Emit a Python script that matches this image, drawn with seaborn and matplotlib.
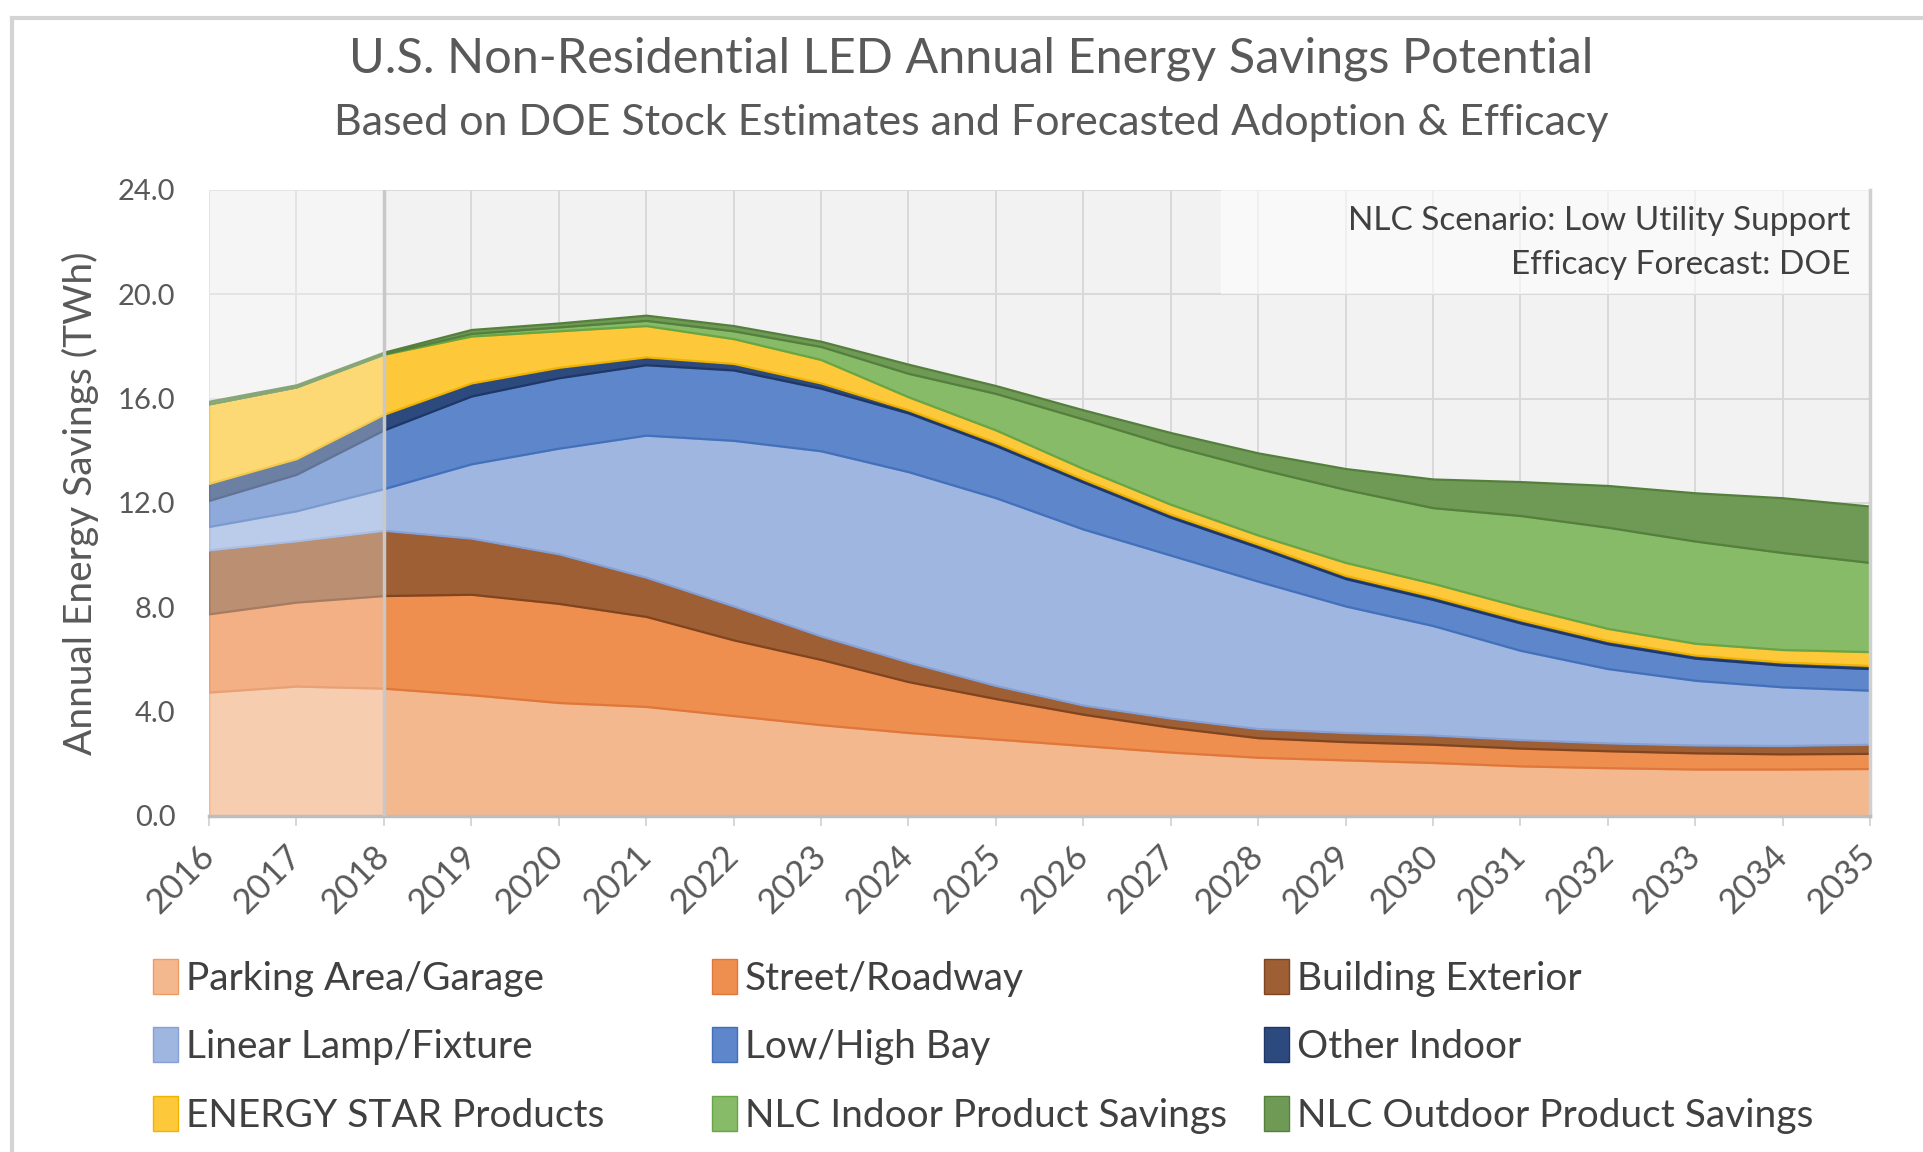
import matplotlib
matplotlib.use("Agg")
import matplotlib.pyplot as plt
import matplotlib.patches as mpatches
import seaborn as sns

# Data (TWh per category, stacked)
years = list(range(2016, 2036))

parking = [4.75, 4.98, 4.90, 4.65, 4.35, 4.20, 3.85, 3.50, 3.20, 2.95,
           2.70, 2.45, 2.25, 2.15, 2.05, 1.92, 1.85, 1.80, 1.80, 1.82]
street = [3.00, 3.22, 3.55, 3.85, 3.80, 3.45, 2.90, 2.50, 1.95, 1.55,
          1.20, 0.95, 0.75, 0.70, 0.70, 0.68, 0.65, 0.62, 0.58, 0.58]
building_ext = [2.45, 2.35, 2.50, 2.15, 1.90, 1.50, 1.30, 0.90, 0.75, 0.50,
                0.35, 0.35, 0.35, 0.35, 0.35, 0.33, 0.30, 0.30, 0.32, 0.35]
linear = [0.90, 1.15, 1.60, 2.85, 4.05, 5.45, 6.35, 7.10, 7.30, 7.20,
          6.75, 6.25, 5.65, 4.85, 4.20, 3.42, 2.85, 2.48, 2.25, 2.07]
low_high_bay = [1.00, 1.40, 2.25, 2.60, 2.70, 2.70, 2.70, 2.40, 2.25, 2.00,
                1.80, 1.45, 1.30, 1.05, 1.00, 1.05, 0.95, 0.85, 0.83, 0.83]
other_indoor = [0.65, 0.60, 0.60, 0.50, 0.40, 0.30, 0.25, 0.20, 0.12, 0.12,
                0.12, 0.12, 0.12, 0.12, 0.12, 0.12, 0.12, 0.12, 0.12, 0.12]
energy_star = [3.05, 2.75, 2.30, 1.80, 1.40, 1.20, 0.95, 0.90, 0.50, 0.48,
               0.40, 0.38, 0.35, 0.50, 0.50, 0.50, 0.47, 0.45, 0.48, 0.53]
nlc_indoor = [0.00, 0.00, 0.02, 0.10, 0.15, 0.20, 0.30, 0.50, 0.90, 1.40,
              1.90, 2.25, 2.55, 2.80, 2.90, 3.50, 3.88, 3.92, 3.72, 3.42]
nlc_outdoor = [0.10, 0.08, 0.06, 0.15, 0.15, 0.20, 0.20, 0.20, 0.35, 0.30,
               0.35, 0.50, 0.60, 0.80, 1.10, 1.30, 1.60, 1.85, 2.10, 2.16]

labels = ["Parking Area/Garage", "Street/Roadway", "Building Exterior",
          "Linear Lamp/Fixture", "Low/High Bay", "Other Indoor",
          "ENERGY STAR Products", "NLC Indoor Product Savings", "NLC Outdoor Product Savings"]
series = [parking, street, building_ext, linear, low_high_bay, other_indoor,
          energy_star, nlc_indoor, nlc_outdoor]
colors = ["#f4b88f", "#ef8f4f", "#9f5f34", "#9fb6e1", "#5d86cb", "#2d4a7e",
          "#fdc93a", "#87bb67", "#6f9a56"]
edges = ["#ef9c63", "#e0773a", "#7f4420", "#86a1d6", "#4370bb", "#1f3766",
         "#f0b400", "#67a546", "#557f3d"]

sns.set_theme(style="whitegrid")
plt.rcParams["font.family"] = ["Lato", "DejaVu Sans"]
text_c = "#595959"

fig = plt.figure(figsize=(19.24, 11.52), dpi=100)
ax = fig.add_axes([0.1086, 0.2917, 0.8634, 0.5434])
ax.set_facecolor("#f2f2f2")

polys = ax.stackplot(years, *series, colors=colors, linewidth=1.6, zorder=2)
for p, ec in zip(polys, edges):
    p.set_edgecolor(ec)

# historic years are washed out
ax.axvspan(2016, 2018, color="white", alpha=0.3, lw=0, zorder=2.5)
ax.axvline(2018, color="#c8c8c8", lw=2.5, zorder=3)

ax.set_xlim(2016, 2035)
ax.set_ylim(0, 24)
ax.set_xticks(years)
ax.set_xticklabels([str(y) for y in years], rotation=45, ha="right",
                   va="center", rotation_mode="anchor")
ax.set_yticks(range(0, 25, 4))
ax.set_yticklabels([f"{v:.1f}" for v in range(0, 25, 4)])
ax.grid(True, color="#d9d9d9", lw=1.4)
ax.set_axisbelow(True)
ax.tick_params(axis="y", length=0, pad=24, labelsize=21, labelcolor=text_c)
ax.tick_params(axis="x", length=7, width=1.2, color="#d0d0d0", pad=18,
               labelsize=25, labelcolor=text_c, bottom=True)
for side in ["top", "left"]:
    ax.spines[side].set_visible(False)
ax.spines["bottom"].set_color("#bdbdbd")
ax.spines["bottom"].set_linewidth(2.5)
ax.spines["right"].set_color("#d0d0d0")
ax.spines["right"].set_linewidth(2.5)

ax.set_ylabel("Annual Energy Savings (TWh)", fontsize=28, color=text_c)
ax.yaxis.set_label_coords(-0.066, 0.5)

# scenario box
ax.add_patch(mpatches.Rectangle((0.609, 0.834), 0.391, 0.166, transform=ax.transAxes,
                                facecolor="white", alpha=0.6, lw=0, zorder=1))
ax.text(0.988, 0.950, "NLC Scenario: Low Utility Support", transform=ax.transAxes,
        ha="right", va="center", fontsize=24, color="#404040", zorder=4)
ax.text(0.988, 0.880, "Efficacy Forecast: DOE", transform=ax.transAxes,
        ha="right", va="center", fontsize=24, color="#404040", zorder=4)

fig.text(0.505, 0.949, "U.S. Non-Residential LED Annual Energy Savings Potential",
         ha="center", va="center", fontsize=35, color=text_c)
fig.text(0.505, 0.893, "Based on DOE Stock Estimates and Forecasted Adoption & Efficacy",
         ha="center", va="center", fontsize=31, color=text_c)

# legend in three columns, row-wise order like the original
col_x = [153 / 1924, 712 / 1924, 1264 / 1924]
for c in range(3):
    handles = []
    for r in range(3):
        i = r * 3 + c
        handles.append(mpatches.Patch(facecolor=colors[i], edgecolor=edges[i],
                                      label=labels[i]))
    fig.legend(handles=handles, loc="upper left", bbox_to_anchor=(col_x[c], 1 - 959 / 1152),
               frameon=False, fontsize=28, labelcolor="#404040", borderpad=0,
               borderaxespad=0, handlelength=0.65, handleheight=1.0,
               handletextpad=0.2, labelspacing=0.79)

# outer frame of the chart
fig.add_artist(mpatches.Rectangle((12 / 1924, -0.1), 1.2, 1 - 18 / 1152 + 0.1,
                                  transform=fig.transFigure, fill=False,
                                  edgecolor="#d4d4d4", lw=3))

fig.savefig("out.png", dpi=100)
